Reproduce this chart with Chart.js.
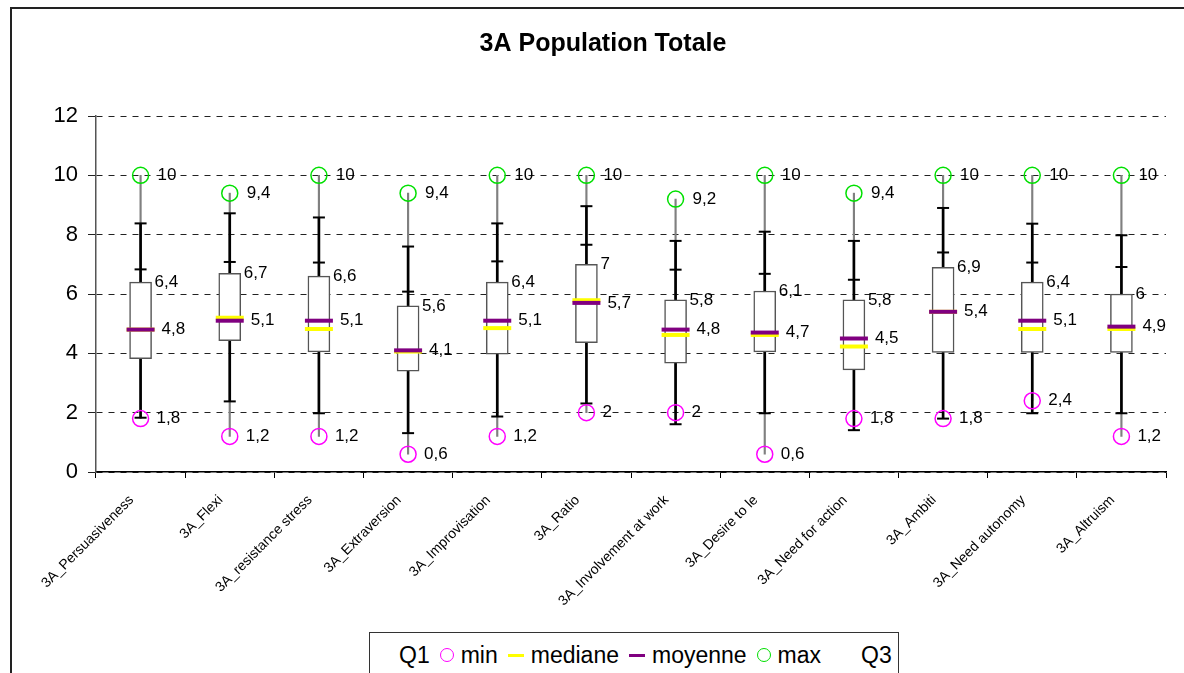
<!DOCTYPE html>
<html>
<head>
<meta charset="utf-8">
<script src="https://cdn.jsdelivr.net/npm/chart.js@4"></script>
<style>
    body { margin: 0; background: #fff; font-family: "Liberation Sans", Arial, sans-serif; }
    #wrap { position: relative; width: 1184px; height: 673px; overflow: hidden; }
    #frame { position: absolute; left: 10px; top: 7px; width: 1200px; height: 700px; border: 2px solid #222; }
    #chart { position: absolute; left: 0; top: 0; }
    #legend { position: absolute; left: 369px; top: 632px; width: 530px; height: 60px; border: 1.5px solid #333;
              background: #fff; font-size: 23px; color: #000; display: flex; align-items: flex-start; padding-top: 10px; box-sizing: border-box; padding-left: 29px; }
    #legend .item { display: flex; align-items: center; margin-right: 10px; line-height: 24px; }
    #legend .sym { display: inline-block; margin-right: 7px; }
    #legend .circle { width: 12px; height: 12px; border-radius: 50%; border: 1.5px solid; }
    #legend .line { width: 16px; height: 0; border-top: 3px solid; }
</style>
</head>
<body>
<div id="wrap">
    <div id="frame"></div>
    <canvas id="chart" width="1184" height="673"></canvas>
    <div id="legend"></div>
</div>
<script>
// categories (labels are cut like in the original sheet)
const categories = ["3A_Persuasiveness", "3A_Flexi", "3A_resistance stress", "3A_Extraversion", "3A_Improvisation",
    "3A_Ratio", "3A_Involvement at work", "3A_Desire to le", "3A_Need for action", "3A_Ambiti", "3A_Need autonomy", "3A_Altruism"];

const minVals  = [1.8, 1.2, 1.2, 0.6, 1.2, 2, 2, 0.6, 1.8, 1.8, 2.4, 1.2];
const q1Vals   = [3.82, 4.43, 4.05, 3.40, 3.97, 4.36, 3.67, 4.05, 3.44, 4.03, 4.03, 4.03];
const medVals  = [4.8, 5.2, 4.82, 4.06, 4.85, 5.79, 4.62, 4.62, 4.23, 5.4, 4.82, 4.82];
const meanVals = [4.8, 5.1, 5.1, 4.1, 5.1, 5.7, 4.8, 4.7, 4.5, 5.4, 5.1, 4.9];
const q3Vals   = [6.4, 6.7, 6.6, 5.6, 6.4, 7, 5.8, 6.1, 5.8, 6.9, 6.4, 6];
const maxVals  = [10, 9.4, 10, 9.4, 10, 10, 9.2, 10, 9.4, 10, 10, 10];
// error bar ends on the whiskers
const upHigh   = [8.38, 8.72, 8.58, 7.60, 8.38, 8.96, 7.79, 8.10, 7.79, 8.90, 8.37, 7.98];
const upLow    = [6.83, 7.08, 7.06, 6.08, 7.10, 7.66, 6.82, 6.68, 6.48, 7.40, 7.06, 6.91];
const lowTick  = [1.83, 2.38, 1.98, 1.31, 1.87, 2.31, 1.61, 1.98, 1.41, 1.8, 1.98, 1.98];

const yTicks = [0, 2, 4, 6, 8, 10, 12];

const legendItems = [
    { text: "Q1", sym: null },
    { text: "min", sym: "circle", color: "#FF00FF" },
    { text: "mediane", sym: "line", color: "#FFFF00" },
    { text: "moyenne", sym: "line", color: "#800080" },
    { text: "max", sym: "circle", color: "#00E000" },
    { text: "Q3", sym: null }
];

const fmt = v => String(v).replace(".", ",");

// value labels next to each box
const valueLabels = {
    id: "valueLabels",
    afterDatasetsDraw(chart) {
        const { ctx, scales: { x, y } } = chart;
        ctx.save();
        ctx.font = "17px 'Liberation Sans', Arial, sans-serif";
        ctx.fillStyle = "#000";
        ctx.textAlign = "left";
        ctx.textBaseline = "middle";
        categories.forEach((c, i) => {
            const px = x.getPixelForValue(i);
            ctx.fillText(fmt(maxVals[i]), px + 17, y.getPixelForValue(maxVals[i]));
            ctx.fillText(fmt(q3Vals[i]), px + 14, y.getPixelForValue(q3Vals[i]));
            ctx.fillText(fmt(meanVals[i]), px + 21, y.getPixelForValue(meanVals[i]));
            ctx.fillText(fmt(minVals[i]), px + 16, y.getPixelForValue(minVals[i]));
        });
        ctx.restore();
    }
};

const pointSet = (data, style, radius, color, width, order) => ({
    type: "line",
    data: data,
    showLine: false,
    pointStyle: style,
    pointRadius: radius,
    pointBorderColor: color,
    pointBackgroundColor: "rgba(0,0,0,0)",
    pointBorderWidth: width,
    order: order
});

const barSet = (data, thickness, fill, border, borderW, order) => ({
    type: "bar",
    data: data,
    barThickness: thickness,
    backgroundColor: fill,
    borderColor: border,
    borderWidth: borderW,
    borderSkipped: false,
    grouped: false,
    order: order
});

const chart = new Chart(document.getElementById("chart"), {
    type: "bar",
    data: {
        labels: categories,
        datasets: [
            pointSet(maxVals, "circle", 8, "#00E000", 1.5, 0),
            pointSet(minVals, "circle", 8, "#FF00FF", 1.5, 0),
            pointSet(upHigh, "line", 6, "#000", 2, 1),
            pointSet(upLow, "line", 6, "#000", 2, 1),
            pointSet(lowTick, "line", 6, "#000", 2, 1),
            pointSet(meanVals, "line", 14, "#800080", 4, 2),
            pointSet(medVals, "line", 14, "#FFFF00", 4, 3),
            barSet(categories.map((c, i) => [q1Vals[i], q3Vals[i]]), 22, "#fff", "#555", 1.5, 4),
            barSet(categories.map((c, i) => [q3Vals[i], upHigh[i]]), 2, "#000", "#000", 0, 5),
            barSet(categories.map((c, i) => [lowTick[i], q1Vals[i]]), 2, "#000", "#000", 0, 5),
            barSet(categories.map((c, i) => [minVals[i], maxVals[i]]), 1.5, "#808080", "#808080", 0, 6)
        ]
    },
    options: {
        responsive: false,
        animation: false,
        events: [],
        layout: { padding: { left: 30, right: 8, top: 0, bottom: 51 } },
        plugins: {
            legend: { display: false },
            tooltip: { enabled: false },
            title: {
                display: true,
                text: "3A Population Totale",
                color: "#000",
                font: { family: "'Liberation Sans', Arial, sans-serif", size: 25, weight: "bold" },
                padding: { top: 29, bottom: 57 }
            }
        },
        scales: {
            x: {
                offset: true,
                afterFit: scale => { scale.height = 150; },
                grid: { display: true, drawOnChartArea: false, drawTicks: true, tickLength: 6, offset: true, color: "#000" },
                border: { color: "#000", width: 1.5 },
                ticks: {
                    autoSkip: false,
                    minRotation: 45,
                    maxRotation: 45,
                    padding: 14,
                    labelOffset: -9,
                    color: "#000",
                    font: { family: "'Liberation Sans', Arial, sans-serif", size: 14 }
                }
            },
            y: {
                min: 0,
                max: 12,
                afterFit: scale => { scale.width = 66; },
                afterBuildTicks: scale => { scale.ticks = yTicks.map(v => ({ value: v })); },
                grid: { color: "#222", lineWidth: 1, tickLength: 8 },
                border: { color: "#555", width: 1.5, dash: [6, 6] },
                ticks: {
                    padding: 10,
                    color: "#000",
                    font: { family: "'Liberation Sans', Arial, sans-serif", size: 22 }
                }
            }
        }
    },
    plugins: [valueLabels]
});

// legend
const legendDiv = document.getElementById("legend");
legendItems.forEach(it => {
    const item = document.createElement("span");
    item.className = "item";
    if (it.sym) {
        const s = document.createElement("span");
        s.className = "sym " + it.sym;
        s.style.borderColor = it.color;
        item.appendChild(s);
    }
    item.appendChild(document.createTextNode(it.text));
    legendDiv.appendChild(item);
});
legendDiv.lastChild.style.marginLeft = "30px";
</script>
</body>
</html>
